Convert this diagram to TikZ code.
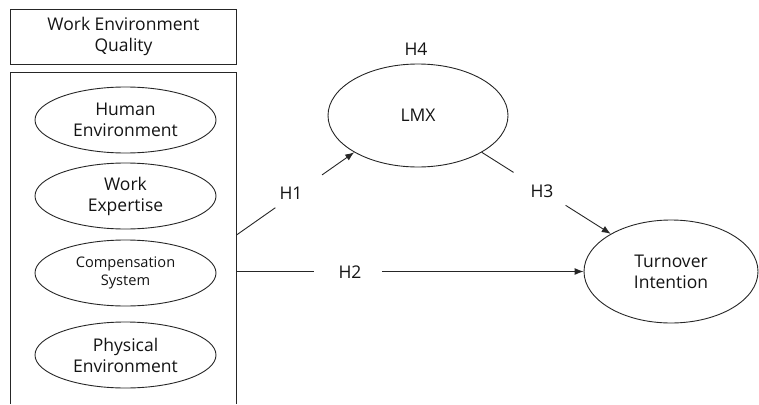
\documentclass[tikz,border=0pt]{standalone}
\usepackage{fontspec}
\setmainfont{Open Sans}
\usetikzlibrary{shapes.geometric,arrows.meta,calc}
\begin{document}
\begin{tikzpicture}[x=1pt,y=-1pt,
  lc/.style={draw=black!85, line width=0.9pt},
  txt/.style={text=black!92, font=\fontsize{17.5}{21}\selectfont},
  construct/.style={ellipse, lc, txt, inner sep=0pt, align=center},
  smallconstruct/.style={construct, font=\fontsize{14.6}{18}\selectfont},
  hlabel/.style={txt, inner sep=0pt},
  arr/.style={lc, -{Latex[length=9pt,width=7pt]}}
]
\useasboundingbox (0,0) rectangle (759,404);

% title box
\node (title) [rectangle, lc, txt, align=center, minimum width=226pt, minimum height=54.5pt, inner sep=0pt]
  at (123.5,36.75) {Work Environment\\Quality};

% panel (open at bottom)
\node (panel) [minimum width=226pt, minimum height=331pt, inner sep=0pt] at (123.5,238.5) {};
\draw[lc] (panel.south west) -- (panel.north west) -- (panel.north east) -- (panel.south east);

% inner constructs
\node (human) [construct, minimum width=181pt, minimum height=66pt] at (125.5,120) {Human\\Environment};
\node (work) [construct, minimum width=181pt, minimum height=66pt] at (125.5,196) {Work\\Expertise};
\node (comp) [smallconstruct, minimum width=181pt, minimum height=66pt] at (125.5,273) {Compensation\\System};
\node (phys) [construct, minimum width=181pt, minimum height=66pt] at (125.5,355) {Physical\\Environment};

% LMX and Turnover
\node (lmx) [construct, minimum width=180pt, minimum height=103pt] at (418,115.5) {LMX};
\node (h4) [hlabel] at (416,49.5) {H4};
\node (tio) [construct, minimum width=174pt, minimum height=103pt] at (671,271.5) {Turnover\\Intention};

% H1
\coordinate (h1s) at (236.5,235);
\draw[lc] (h1s) -- ($(h1s)!0.33!(lmx.210)$);
\draw[arr] ($(h1s)!0.727!(lmx.210)$) -- (lmx.210);
\node (h1) [hlabel] at (291,193) {H1};

% H2
\coordinate (h2s) at (236.5,271.5);
\draw[lc] (h2s) -- ($(h2s)!0.223!(tio.west)$);
\draw[arr] ($(h2s)!0.419!(tio.west)$) -- (tio.west);
\node (h2) [hlabel] at (350,272) {H2};

% H3
\draw[lc] (lmx.330) -- ($(lmx.330)!0.246!(tio.148.4)$);
\draw[arr] ($(lmx.330)!0.65!(tio.148.4)$) -- (tio.148.4);
\node (h3) [hlabel] at (542,191) {H3};
\end{tikzpicture}
\end{document}
